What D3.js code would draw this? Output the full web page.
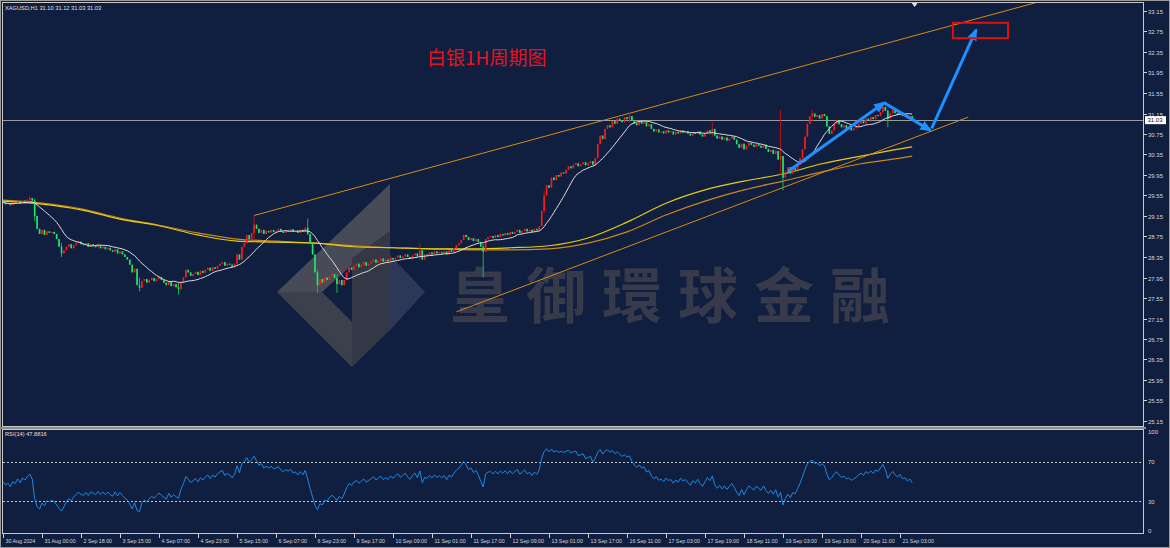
<!DOCTYPE html>
<html><head><meta charset="utf-8">
<script src="https://d3js.org/d3.v7.min.js"></script>
<style>
body{margin:0;background:#101e3f;overflow:hidden}
text{font-family:"Liberation Sans",Arial,sans-serif}
</style></head><body>
<script>
// hourly closes, XAGUSD H1 (open = previous close)
var firstOpen = 29.40;
var closes = [
29.42,29.38,29.40,29.36,29.41,29.39,29.44,29.40,29.45,29.43,
29.47,29.50,29.45,29.15,28.90,28.80,28.88,28.78,28.85,28.82,
28.84,28.80,28.70,28.55,28.42,28.48,28.55,28.60,28.52,28.58,
28.62,28.65,28.60,28.58,28.62,28.55,28.60,28.57,28.54,28.58,
28.52,28.55,28.50,28.53,28.48,28.45,28.50,28.42,28.46,28.40,
28.35,28.30,28.20,28.05,28.12,27.80,27.75,27.88,27.92,27.85,
27.90,27.94,27.88,27.92,27.96,27.90,27.85,27.80,27.88,27.78,
27.82,27.76,27.72,27.85,27.95,28.10,28.05,27.98,28.02,28.06,
28.00,28.08,28.04,28.10,28.14,28.08,28.15,28.12,28.18,28.22,
28.25,28.18,28.22,28.20,28.16,28.22,28.40,28.30,28.55,28.62,
28.78,28.70,28.82,28.98,28.90,28.82,28.88,28.80,28.86,28.83,
28.88,28.84,28.86,28.90,28.85,28.82,28.87,28.85,28.89,28.84,
28.86,28.82,28.88,28.84,28.92,28.80,28.62,28.40,28.05,27.80,
27.92,27.85,27.95,27.90,27.98,28.02,27.94,27.82,27.90,27.80,
27.90,28.05,28.15,28.10,28.18,28.22,28.15,28.20,28.25,28.18,
28.22,28.26,28.30,28.24,28.28,28.32,28.26,28.30,28.27,28.33,
28.30,28.34,28.38,28.33,28.36,28.40,28.35,28.32,28.38,28.42,
28.36,28.48,28.30,28.40,28.38,28.44,28.40,28.46,28.42,28.45,
28.42,28.46,28.40,28.48,28.45,28.52,28.58,28.62,28.68,28.78,
28.74,28.68,28.72,28.66,28.70,28.64,28.55,28.45,28.70,28.74,
28.76,28.72,28.78,28.74,28.80,28.77,28.82,28.78,28.84,28.80,
28.84,28.88,28.82,28.86,28.90,28.85,28.88,28.84,28.90,28.87,
28.95,29.25,29.55,29.75,29.70,29.90,29.85,29.95,29.92,30.00,
29.98,30.05,30.12,30.08,30.15,30.18,30.12,30.16,30.20,30.14,
30.18,30.22,30.15,30.28,30.55,30.72,30.65,30.85,30.92,30.88,
31.00,30.95,31.05,31.02,30.98,31.08,31.04,31.10,31.02,30.96,
30.92,31.00,30.95,30.98,30.90,30.94,30.85,30.80,30.84,30.78,
30.80,30.76,30.82,30.78,30.80,30.74,30.79,30.76,30.82,30.78,
30.80,30.76,30.72,30.78,30.75,30.80,30.74,30.70,30.76,30.82,
30.78,30.85,30.72,30.66,30.70,30.64,30.68,30.62,30.66,30.70,
30.64,30.55,30.48,30.56,30.45,30.52,30.58,30.54,30.50,30.55,
30.52,30.48,30.54,30.46,30.40,30.44,30.36,30.42,30.25,30.32,
29.90,30.02,30.10,29.98,30.08,30.05,30.15,30.28,30.45,30.70,
30.95,31.10,31.15,31.08,31.12,31.05,31.14,31.10,30.90,30.75,
30.82,30.95,31.02,30.94,30.88,30.92,30.85,30.88,30.82,30.86,
30.90,30.95,31.00,30.96,31.05,31.02,31.08,31.04,31.12,31.10,
31.18,31.28,31.20,31.05,31.15,31.22,31.16,31.12,31.18,31.10,
31.12,31.06,31.10,31.03
];
// bars with visible wicks: [bar, high, low]
var spikes = [
[11,29.55,29.42],[13,29.48,29.05],[24,28.62,28.35],[56,27.95,27.68],[72,27.85,27.62],
[103,29.16,28.70],[125,29.10,28.78],[129,28.10,27.65],[137,28.00,27.65],[171,28.62,28.30],
[197,28.60,27.95],[222,29.65,29.20],[257,31.15,30.98],[291,30.98,30.70],[319,31.22,29.95],
[320,30.10,29.65],[332,31.22,31.00],[361,31.38,31.15],[363,31.22,30.88]
];
// slow moving averages sampled at the time labels
var maBars   = [0,16,32,48,64,80,96,112,128,144,160,176,192,208,224,240,256,272,288,304,320,336,352,368,373];
var maYellow = [29.44,29.38,29.27,29.09,28.96,28.78,28.66,28.64,28.62,28.55,28.53,28.51,28.51,28.53,28.57,28.72,29.03,29.40,29.66,29.83,29.97,30.17,30.32,30.46,30.50];
var maOrange = [29.46,29.40,29.29,29.11,28.97,28.82,28.70,28.66,28.62,28.57,28.53,28.51,28.49,28.49,28.51,28.62,28.84,29.17,29.44,29.66,29.83,30.01,30.17,30.28,30.32];

var priceTicks = ["33.15","32.75","32.35","31.95","31.55","31.15","30.75","30.35","29.95","29.55","29.15","28.75","28.35","27.95","27.55","27.15","26.75","26.35","25.95","25.55","25.15"];
var rsiTicks = [100,70,30,0];
var timeLabels = ["30 Aug 2024","31 Aug 00:00","2 Sep 18:00","3 Sep 15:00","4 Sep 07:00","4 Sep 23:00","5 Sep 15:00","6 Sep 07:00","6 Sep 23:00","9 Sep 17:00","10 Sep 09:00","11 Sep 01:00","11 Sep 17:00","12 Sep 09:00","13 Sep 01:00","13 Sep 17:00","16 Sep 11:00","17 Sep 03:00","17 Sep 19:00","18 Sep 11:00","19 Sep 03:00","19 Sep 19:00","20 Sep 11:00","21 Sep 03:00"];
var lastPrice = 31.03;

// drawn objects, in [bar, price]
var trendUp  = [[103,29.16],[425,33.33]];
var trendLow = [[186,27.28],[396,31.08]];
var arrows = [
 [[322,30.02],[361.5,31.36]],
 [[361.5,31.36],[380.5,30.82]],
 [[381,30.86],[399.2,32.78]]
];
var targetBox = [[389.7,32.92],[412.3,32.62]];

var W=1170,H=548;
var svg=d3.select("body").append("svg").attr("width",W).attr("height",H);
svg.append("rect").attr("width",W).attr("height",H).attr("fill","#101e3f");

var x=d3.scaleLinear().domain([0,373]).range([3,912.2]);
var y=d3.scaleLinear().domain([25.15,33.15]).range([421,11]);
var yr=d3.scaleLinear().domain([0,100]).range([531,432]);

var defs=svg.append("defs");
defs.append("clipPath").attr("id","main").append("rect").attr("x",3).attr("y",3).attr("width",1140).attr("height",423);
defs.append("clipPath").attr("id","sub").append("rect").attr("x",3).attr("y",430).attr("width",1140).attr("height",103);
defs.append("marker").attr("id","head").attr("markerUnits","userSpaceOnUse")
  .attr("markerWidth",13).attr("markerHeight",11).attr("refX",10).attr("refY",5).attr("orient","auto")
  .append("path").attr("d","M0,0 L12,5 L0,10 z").attr("fill","#1e90ff");

// watermark
var wm=svg.append("g");
wm.append("path").attr("d","M390,184 L390,231 L322,292 L277,292 Z").attr("fill","#474b57");
wm.append("path").attr("d","M277,292 L322,292 L352,322 L352,367 Z").attr("fill","#3c404d");
wm.append("path").attr("d","M352,258 L390,231 L390,330 L352,367 Z").attr("fill","#343846");
wm.append("path").attr("d","M390,255 L425,292 L390,330 Z").attr("fill","#2d3757");
wm.append("text").attr("x",450).attr("y",318).attr("font-size",60).attr("letter-spacing",16).attr("font-weight","bold")
  .style("font-family","'Noto Sans CJK TC','Noto Sans CJK SC',sans-serif").attr("fill","#363a4a").text("皇御環球金融");

var g=svg.append("g").attr("clip-path","url(#main)");

// slow MAs
var maLine=d3.line().x(function(d){return x(d[0]);}).y(function(d){return y(d[1]);}).curve(d3.curveMonotoneX);
g.append("path").attr("d",maLine(maBars.map(function(b,i){return [b,maOrange[i]];})))
  .attr("fill","none").attr("stroke","#c9871c").attr("stroke-width",1.2);
g.append("path").attr("d",maLine(maBars.map(function(b,i){return [b,maYellow[i]];})))
  .attr("fill","none").attr("stroke","#e8cc10").attr("stroke-width",1.2);

// trend lines
[trendUp,trendLow].forEach(function(t){
  g.append("line").attr("x1",x(t[0][0])).attr("y1",y(t[0][1])).attr("x2",x(t[1][0])).attr("y2",y(t[1][1]))
   .attr("stroke","#d98a12").attr("stroke-width",1);
});

// price line
g.append("line").attr("x1",3).attr("x2",1143).attr("y1",Math.round(y(lastPrice))+0.5).attr("y2",Math.round(y(lastPrice))+0.5)
  .attr("stroke","#9a9a9a").attr("stroke-width",1);

// candles
var bars=closes.map(function(c,i){
  var o=i===0?firstOpen:closes[i-1];
  return {i:i,o:o,c:c,h:Math.max(o,c),l:Math.min(o,c)};
});
spikes.forEach(function(s){var b=bars[s[0]];b.h=Math.max(b.h,s[1]);b.l=Math.min(b.l,s[2]);});
function col(d){return d.c>=d.o?"#ff1a1a":"#1de86b";}
g.selectAll("line.wick").data(bars).enter().append("line").attr("class","wick")
  .attr("x1",function(d){return x(d.i);}).attr("x2",function(d){return x(d.i);})
  .attr("y1",function(d){return y(d.h);}).attr("y2",function(d){return y(d.l);})
  .attr("stroke",function(d){return d.c>=d.o?"#b81414":"#16b456";}).attr("stroke-width",1);
g.selectAll("rect.body").data(bars).enter().append("rect").attr("class","body")
  .attr("x",function(d){return x(d.i)-0.8;}).attr("width",1.6)
  .attr("y",function(d){return y(Math.max(d.o,d.c));})
  .attr("height",function(d){return Math.max(1,Math.abs(y(d.o)-y(d.c)));})
  .attr("fill",col);

// fast MA (14) in white
var sma=bars.map(function(b,i){return [i,d3.mean(bars.slice(Math.max(0,i-13),i+1),function(d){return d.c;})];});
g.append("path").attr("d",d3.line().x(function(d){return x(d[0]);}).y(function(d){return y(d[1]);})(sma))
  .attr("fill","none").attr("stroke","#dcdcdc").attr("stroke-width",1);

// arrows and target box
arrows.forEach(function(a){
  g.append("line").attr("x1",x(a[0][0])).attr("y1",y(a[0][1])).attr("x2",x(a[1][0])).attr("y2",y(a[1][1]))
   .attr("stroke","#1e90ff").attr("stroke-width",3).attr("marker-end","url(#head)");
});
g.append("rect").attr("x",x(targetBox[0][0])).attr("y",y(targetBox[0][1]))
  .attr("width",x(targetBox[1][0])-x(targetBox[0][0])).attr("height",y(targetBox[1][1])-y(targetBox[0][1]))
  .attr("fill","none").attr("stroke","#e01010").attr("stroke-width",2);

// title + header
svg.append("text").attr("x",427).attr("y",65).attr("font-size",19).attr("fill","#e8141c")
  .style("font-family","'Noto Sans CJK SC',sans-serif").text("白银1H周期图");
svg.append("text").attr("x",5).attr("y",9.5).attr("font-size",5.7).attr("fill","#e0e0e0").text("XAGUSD,H1  31.10 31.12 31.03 31.03");
svg.append("path").attr("d","M"+(x(374)-3)+",3 L"+(x(374)+3)+",3 L"+x(374)+",7 Z").attr("fill","#e0e0e0");

// RSI
var rsi=[],ag=0.02,al=0.02;
bars.forEach(function(b,i){
  if(i>0){var d=b.c-bars[i-1].c;ag=(ag*13+Math.max(d,0))/14;al=(al*13+Math.max(-d,0))/14;}
  rsi.push([i,100-100/(1+ag/al)]);
});
var s=svg.append("g").attr("clip-path","url(#sub)");
[70,30].forEach(function(v){
  s.append("line").attr("x1",3).attr("x2",1143).attr("y1",Math.round(yr(v))+0.5).attr("y2",Math.round(yr(v))+0.5)
   .attr("stroke","#c8c8c8").attr("stroke-dasharray","2,2").attr("stroke-width",1);
});
s.append("path").attr("d",d3.line().x(function(d){return x(d[0]);}).y(function(d){return yr(d[1]);})(rsi))
  .attr("fill","none").attr("stroke","#1e88e5").attr("stroke-width",1);
svg.append("text").attr("x",5).attr("y",436).attr("font-size",5.7).attr("fill","#e0e0e0").text("RSI(14) 47.8816");

// frames
svg.append("rect").attr("x",0.5).attr("y",0.5).attr("width",W-1).attr("height",H-1).attr("fill","none").attr("stroke","#9a9a9a");
svg.append("rect").attr("x",2.5).attr("y",2.5).attr("width",1141).attr("height",424).attr("fill","none").attr("stroke","#c8c8c8");
svg.append("rect").attr("x",2.5).attr("y",429.5).attr("width",1141).attr("height",104).attr("fill","none").attr("stroke","#c8c8c8");
svg.append("line").attr("x1",0).attr("x2",1146).attr("y1",428).attr("y2",428).attr("stroke","#8c8c8c").attr("stroke-width",2);

// price axis
var ax=svg.append("g");
priceTicks.forEach(function(t){
  var v=parseFloat(t),yy=Math.round(y(v))+0.5;
  ax.append("line").attr("x1",1144).attr("x2",1147).attr("y1",yy).attr("y2",yy).attr("stroke","#d0d0d0");
  ax.append("text").attr("x",1148).attr("y",yy+2.2).attr("font-size",6).attr("fill","#d8d8d8").text(t);
});
var ly=y(lastPrice);
ax.append("rect").attr("x",1145).attr("y",ly-3.5).attr("width",21).attr("height",8).attr("fill","#ffffff");
ax.append("text").attr("x",1147.5).attr("y",ly+2.6).attr("font-size",6).attr("fill","#111111").text("31.03");
rsiTicks.forEach(function(v){
  ax.append("text").attr("x",1148).attr("y",yr(v)+2.2).attr("font-size",6).attr("fill","#d8d8d8").text(v);
});

// time axis
timeLabels.forEach(function(t,k){
  var xx=Math.round(x(k*16))+0.5;
  ax.append("line").attr("x1",xx).attr("x2",xx).attr("y1",534).attr("y2",538).attr("stroke","#d0d0d0");
  ax.append("text").attr("x",xx+2).attr("y",543).attr("font-size",5.3).attr("fill","#d8d8d8").text(t);
});
</script></body></html>
